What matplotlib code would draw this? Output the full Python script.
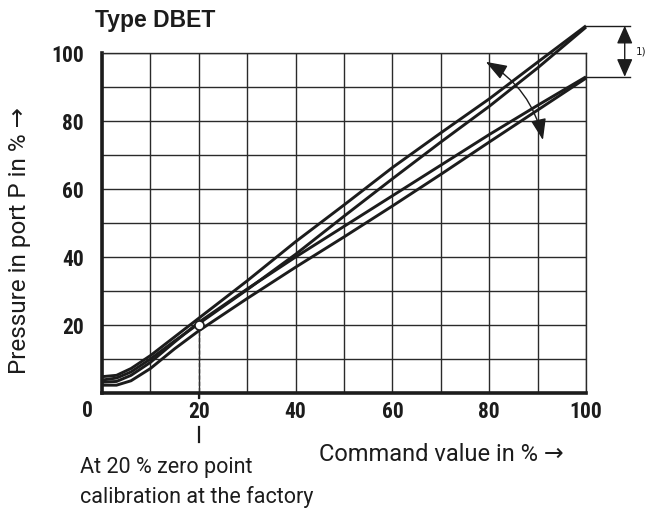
import matplotlib
matplotlib.use("Agg")
import matplotlib.pyplot as plt
from matplotlib.patches import FancyArrowPatch
import numpy as np

# ---- data ----
x_pts = [0, 3, 6, 10, 15, 20, 30, 40, 50, 60, 70, 80, 90, 100]
curve_up1 = [4.8, 5.2, 7.2, 11.0, 16.5, 22.0, 33.0, 44.5, 55.3, 66.3, 76.5, 86.5, 97.3, 108.0]
curve_up2 = [3.8, 4.4, 6.2, 10.0, 15.3, 20.4, 30.4, 40.8, 52.0, 63.0, 73.8, 84.3, 95.6, 107.6]
curve_lo1 = [3.2, 3.4, 5.2, 9.0, 15.0, 20.8, 30.6, 40.0, 49.0, 58.0, 67.0, 76.0, 84.6, 93.0]
curve_lo2 = [2.3, 2.3, 3.6, 7.2, 13.0, 18.3, 27.8, 37.0, 45.9, 55.0, 64.3, 73.8, 83.2, 92.6]
calib_point = (20, 20)
x_ticks = [0, 20, 40, 60, 80, 100]
x_ticklabels = ["", "20", "40", "60", "80", "100"]
y_ticks = [20, 40, 60, 80, 100]
y_ticklabels = ["20", "40", "60", "80", "100"]
upper_end = 108.0
lower_end = 93.0

W, H = 646, 508
fig = plt.figure(figsize=(W / 100, H / 100), dpi=100)
ax = fig.add_axes([102 / W, 1 - 393 / H, 484 / W, 340 / H])
ax.set_xlim(0, 100)
ax.set_ylim(0, 100)

ink = "#1c1c1c"
num_font = dict(family=["Roboto Condensed", "DejaVu Sans"], weight="bold", size=15.5)

# grid
ax.set_xticks(np.arange(0, 101, 10), minor=True)
ax.set_yticks(np.arange(0, 101, 10), minor=True)
ax.set_xticks(x_ticks)
ax.set_xticklabels(x_ticklabels, **num_font)
ax.set_yticks(y_ticks)
ax.set_yticklabels(y_ticklabels, **num_font)
ax.grid(True, which="both", color="#2a2a2a", linewidth=1.0)
ax.set_axisbelow(True)
ax.tick_params(which="both", length=0)
ax.tick_params(axis="x", pad=6, colors=ink)
ax.tick_params(axis="y", pad=13, colors=ink)
ax.text(-3.1, -2.0, "0", ha="center", va="top", color=ink, **num_font)

for s in ["left", "bottom"]:
    ax.spines[s].set_linewidth(2.6)
    ax.spines[s].set_color(ink)
for s in ["top", "right"]:
    ax.spines[s].set_linewidth(1.0)
    ax.spines[s].set_color("#2a2a2a")

# curves
for c in [curve_up1, curve_up2, curve_lo1, curve_lo2]:
    ax.plot(x_pts, c, color=ink, linewidth=2.1, clip_on=False, solid_capstyle="butt", zorder=3)

# calibration marker and leader
ax.plot([calib_point[0], calib_point[0]], [calib_point[1], -1.5], color="#333333",
        linewidth=1.0, linestyle=(0, (3, 1.5)), clip_on=False, zorder=2)
ax.plot([calib_point[0], calib_point[0]], [0, -1.6], color=ink, linewidth=1.6, clip_on=False)
ax.plot([calib_point[0], calib_point[0]], [-10.0, -14.4], color=ink, linewidth=1.6, clip_on=False)
ax.plot([calib_point[0]], [calib_point[1]], marker="o", markersize=6.5, markerfacecolor="white",
        markeredgecolor=ink, markeredgewidth=1.2, zorder=5, clip_on=False)

# dimension arrow 1)
ax.plot([100, 109], [upper_end, upper_end], color=ink, linewidth=1.0, clip_on=False)
ax.plot([99.5, 109], [lower_end, lower_end], color=ink, linewidth=1.0, clip_on=False)
dim = FancyArrowPatch((108.0, upper_end), (108.0, lower_end), arrowstyle="<|-|>,head_length=5,head_width=2.2",
                      color=ink, linewidth=1.0, clip_on=False, shrinkA=0, shrinkB=0,
                      mutation_scale=2.2)
ax.add_patch(dim)
ax.text(110.3, (upper_end + lower_end) / 2, "1)", fontsize=7.5, ha="left", va="center", color=ink,
        family="DejaVu Sans")

# curved arrow
arc = FancyArrowPatch((79.3, 97.4), (91.1, 74.4), connectionstyle="arc3,rad=-0.22",
                      arrowstyle="<|-|>,head_length=5,head_width=1.8", color=ink, linewidth=1.0,
                      mutation_scale=2.6, shrinkA=0, shrinkB=0, clip_on=False, zorder=4)
ax.add_patch(arc)

# texts
fig.text(95 / W, 1 - 27 / H, "Type DBET", family=["Liberation Sans", "DejaVu Sans"], weight="bold",
         fontsize=16.5, ha="left", va="baseline", color=ink)
lab_font = ["Roboto", "DejaVu Sans"]
fig.text(441 / W, 1 - 461 / H, "Command value in % \u2192", family=lab_font, fontsize=17,
         ha="center", va="baseline", color=ink)
fig.text(20 / W, 1 - 240 / H, "Pressure in port P in % \u2192", family=lab_font, fontsize=17.5,
         rotation=90, ha="center", va="center", color=ink)
fig.text(80 / W, 1 - 473 / H, "At 20 % zero point", family=lab_font, fontsize=15.5,
         ha="left", va="baseline", color=ink)
fig.text(80 / W, 1 - 503 / H, "calibration at the factory", family=lab_font, fontsize=15.5,
         ha="left", va="baseline", color=ink)

fig.savefig("out.png", dpi=100)
